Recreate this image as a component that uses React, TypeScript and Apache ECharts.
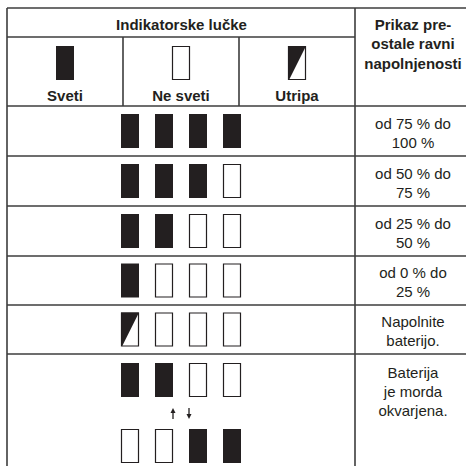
import React, { useEffect, useRef } from 'react';
import * as echarts from 'echarts';

const headerTitle = 'Indikatorske lučke';
const legendLabels = ['Sveti', 'Ne sveti', 'Utripa'];
const legendStates = [1, 0, 2];
const rightHeader = ['Prikaz pre-', 'ostale ravni', 'napolnjenosti'];
const rowStates = [
  [1, 1, 1, 1],
  [1, 1, 1, 0],
  [1, 1, 0, 0],
  [1, 0, 0, 0],
  [2, 0, 0, 0],
];
const rowLabels = [
  ['od 75 % do', '100 %'],
  ['od 50 % do', '75 %'],
  ['od 25 % do', '50 %'],
  ['od 0 % do', '25 %'],
  ['Napolnite', 'baterijo.'],
];
const faultTop = [1, 1, 0, 0];
const faultBottom = [0, 0, 1, 1];
const faultArrows = ['up', 'down'];
const faultLabel = ['Baterija', 'je morda', 'okvarjena.'];

const FONT = '"Liberation Sans", Arial, Helvetica, sans-serif';
const LINE = '#3d3d3d';
const INK = '#231f20';

function icon(x: number, y: number, state: number): any[] {
  const w = 18;
  const h = 34;
  if (state === 1) {
    return [{ type: 'rect', shape: { x, y, width: w, height: h }, style: { fill: INK } }];
  }
  const els: any[] = [
    { type: 'rect', shape: { x: x + 0.5, y: y + 0.5, width: w - 1, height: h - 1 }, style: { fill: '#fff', stroke: INK, lineWidth: 1.2 } },
  ];
  if (state === 2) {
    els.push({
      type: 'polygon',
      shape: { points: [[x, y], [x + w, y], [x + 1, y + h]] },
      style: { fill: INK },
    });
  }
  return els;
}

function txt(text: string, x: number, y: number, bold = false): any {
  return {
    type: 'text',
    style: {
      text,
      x,
      y,
      align: 'center',
      verticalAlign: 'middle',
      fontSize: 15,
      fontWeight: bold ? 'bold' : 'normal',
      fontFamily: FONT,
      fill: '#231f20',
    },
  };
}

function arrow(x: number, yTop: number, yBot: number, dir: string): any[] {
  const tipY = dir === 'up' ? yTop : yBot;
  const baseY = dir === 'up' ? yTop + 5 : yBot - 5;
  return [
    { type: 'line', shape: { x1: x, y1: yTop + (dir === 'up' ? 3 : 0), x2: x, y2: yBot - (dir === 'up' ? 0 : 3) }, style: { stroke: INK, lineWidth: 1.3 } },
    { type: 'polygon', shape: { points: [[x - 2.5, baseY], [x + 2.5, baseY], [x, tipY]] }, style: { fill: INK } },
  ];
}

function hline(y: number, x1: number, x2: number): any {
  return { type: 'line', shape: { x1, y1: y, x2, y2: y }, style: { stroke: LINE, lineWidth: 1.6 } };
}
function vline(x: number, y1: number, y2: number): any {
  return { type: 'line', shape: { x1: x, y1, x2: x, y2 }, style: { stroke: LINE, lineWidth: 1.6 } };
}

export default function App() {
  const ref = useRef<HTMLDivElement>(null);
  useEffect(() => {
    document.body.style.margin = '0';
    if (!ref.current) return;
    const chart = echarts.init(ref.current, undefined, { renderer: 'svg' });

    const left = 7;
    const colDiv = 355;
    const right = 466;
    const top = 8;
    const titleLine = 37;
    const headLine = 106;
    const rowLines = [156, 206, 256, 305, 354];
    const colCenters = [65, 181, 297];
    const iconXs = [121, 155, 189, 223];
    const textX = 413;

    const els: any[] = [];
    els.push(hline(top, left, right));
    els.push(vline(left, top, 466));
    els.push(vline(colDiv, top, 466));
    els.push(hline(titleLine, left, colDiv));
    els.push(vline(123, titleLine, headLine));
    els.push(vline(239, titleLine, headLine));
    els.push(hline(headLine, left, right));
    rowLines.forEach((y) => els.push(hline(y, left, right)));

    els.push(txt(headerTitle, (left + colDiv) / 2 + 0.5, 24, true));
    rightHeader.forEach((t, i) => els.push(txt(t, textX, 24 + i * 19.5, true)));
    legendLabels.forEach((t, i) => {
      els.push(...icon(colCenters[i] - 9, 46, legendStates[i]));
      els.push(txt(t, colCenters[i], 95, true));
    });

    const bounds = [headLine, ...rowLines];
    rowStates.forEach((states, r) => {
      const cy = (bounds[r] + bounds[r + 1]) / 2;
      states.forEach((s, k) => els.push(...icon(iconXs[k], cy - 17, s)));
      const lines = rowLabels[r];
      lines.forEach((t, i) => els.push(txt(t, textX, cy + 1.5 + (i - (lines.length - 1) / 2) * 19)));
    });

    faultTop.forEach((s, k) => els.push(...icon(iconXs[k], 363, s)));
    els.push(...arrow(173, 408, 419, faultArrows[0]));
    els.push(...arrow(189, 408, 419, faultArrows[1]));
    faultBottom.forEach((s, k) => els.push(...icon(iconXs[k], 429, s)));
    faultLabel.forEach((t, i) => els.push(txt(t, textX, 372 + i * 19)));

    chart.setOption({
      animation: false,
      backgroundColor: '#fff',
      graphic: { elements: els },
    });
    return () => chart.dispose();
  }, []);
  return <div ref={ref} style={{ width: 466, height: 466 }} />;
}
